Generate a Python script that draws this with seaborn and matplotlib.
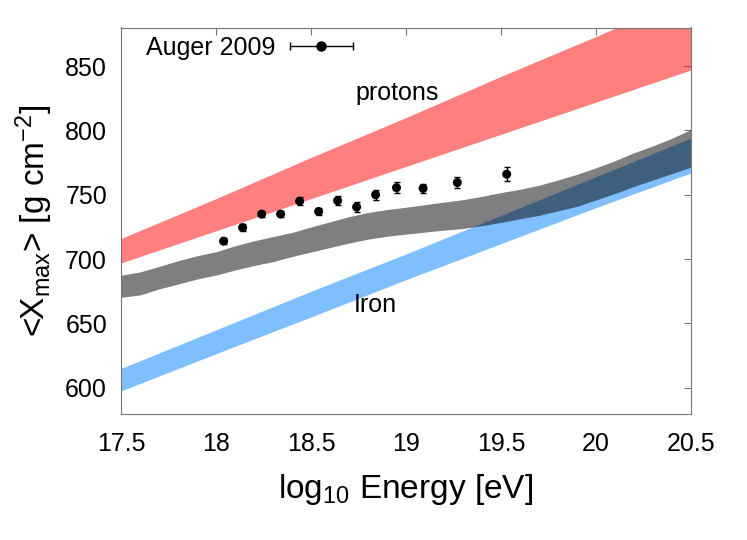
import matplotlib
matplotlib.use('Agg')
import matplotlib.pyplot as plt
import numpy as np
import pandas as pd
import seaborn as sns
from matplotlib.lines import Line2D
from matplotlib.legend_handler import HandlerLine2D, HandlerTuple

# Auger 2009 measurement
log_e = [18.04, 18.14, 18.24, 18.34, 18.44, 18.54, 18.64, 18.74, 18.84, 18.95, 19.09, 19.27, 19.53]
xmax = [714, 724.5, 735, 735, 745, 737, 745.5, 740.5, 750, 755.5, 755, 759.5, 766]
xmax_err = [2.5, 2.5, 2.5, 2.5, 3, 3, 3.5, 4, 4, 4.5, 3.5, 4, 5.5]

# pure composition bands (protons, iron)
edge_e = [17.5, 18.0, 18.5, 19.0, 19.5, 20.0, 20.5]
proton_hi = [716, 747, 779, 810, 842, 873, 905]
proton_lo = [697, 722, 747, 772, 797, 822, 847]
iron_hi = [615, 645, 675, 704, 734, 764, 794]
iron_lo = [597.5, 626.5, 655, 684, 712, 740, 767]

# mixed composition band
band_e = [17.5, 17.6, 17.7, 17.8, 17.9, 18.0, 18.1, 18.2, 18.3, 18.4, 18.5,
          18.6, 18.7, 18.8, 18.9, 19.0, 19.1, 19.2, 19.3, 19.4, 19.5,
          19.6, 19.7, 19.8, 19.9, 20.0, 20.1, 20.2, 20.3, 20.4, 20.5]
mixed_hi = [687.5, 690, 694.3, 698.7, 702.6, 705.7, 710.3, 714.2, 717.5, 720.7, 725,
            729, 733, 736.2, 738.5, 740.3, 742.3, 744.3, 746.2, 748.8, 751.7,
            754.3, 757.4, 761.5, 765.9, 771, 776.5, 782.7, 788, 794, 800.7]
mixed_lo = [670.3, 672.1, 676.8, 680.6, 684.5, 687.6, 691.5, 695, 698, 702, 705.5,
            709, 712.5, 715.5, 717.8, 719.4, 721, 722.5, 723.8, 726, 728.5,
            731.3, 734, 737.5, 741, 746, 751, 756.5, 761.5, 766.5, 771.5]

x_ticks = [17.5, 18, 18.5, 19, 19.5, 20, 20.5]
x_labels = ['17.5', '18', '18.5', '19', '19.5', '20', '20.5']
y_ticks = [600, 650, 700, 750, 800, 850]

sns.set_theme(style='white')
plt.rcParams['font.family'] = ['Liberation Sans', 'DejaVu Sans']
plt.rcParams['mathtext.fontset'] = 'custom'
plt.rcParams['mathtext.rm'] = 'Liberation Sans'
plt.rcParams['mathtext.it'] = 'Liberation Sans'
plt.rcParams['text.color'] = 'black'
plt.rcParams['axes.labelcolor'] = 'black'

fig = plt.figure(figsize=(7.47, 5.4), dpi=100)
ax = fig.add_axes([121 / 747, 1 - 413.5 / 540, 570 / 747, 386 / 540])

ax.fill_between(edge_e, iron_lo, iron_hi, color='#0080ff', alpha=0.5, lw=0)
ax.fill_between(band_e, mixed_lo, mixed_hi, color='black', alpha=0.5, lw=0)
ax.fill_between(edge_e, proton_lo, proton_hi, color='red', alpha=0.5, lw=0)

data = pd.DataFrame({'logE': log_e, 'Xmax': xmax, 'err': xmax_err})
ax.errorbar(data['logE'], data['Xmax'], yerr=data['err'], fmt='none',
            ecolor='black', elinewidth=1, capsize=2.5, capthick=1, zorder=3)
sns.scatterplot(data=data, x='logE', y='Xmax', ax=ax, color='black', s=42,
                edgecolor='none', zorder=4)

ax.text(18.955, 824, 'protons', fontsize=18, ha='center', va='baseline')
ax.text(18.836, 659, 'Iron', fontsize=18, ha='center', va='baseline')

ax.set_xlim(17.5, 20.5)
ax.set_ylim(580, 880)
ax.set_xticks(x_ticks)
ax.set_xticklabels(x_labels)
ax.set_yticks(y_ticks)
ax.tick_params(direction='in', length=5, width=0.8, color='#777777',
               labelcolor='black', top=True, right=True, labelsize=18)
ax.tick_params(axis='x', pad=13)
ax.tick_params(axis='y', pad=10)
ax.set_xlabel(r'log$_{10}$ Energy [eV]', fontsize=24, labelpad=12)
ax.set_ylabel(r'<X$_{\rm max}$> [g cm$^{-2}$]', fontsize=24, labelpad=7)
for sp in ax.spines.values():
    sp.set_color('#777777')
    sp.set_linewidth(0.8)

# legend key: point with horizontal error bar
caps = Line2D([], [], color='black', lw=1, marker='|', markersize=6)
dot = Line2D([], [], color='black', lw=0, marker='o', markersize=6.5)
ax.legend([(caps, dot)], ['Auger 2009'], loc='upper left', frameon=False,
          markerfirst=False, fontsize=18, handlelength=3.1, handletextpad=0.3,
          borderaxespad=0, bbox_to_anchor=(0.026, 1.005),
          handler_map={caps: HandlerLine2D(numpoints=2),
                       dot: HandlerLine2D(numpoints=1),
                       tuple: HandlerTuple(ndivide=1, pad=0)})

fig.savefig('out.png', dpi=100)
